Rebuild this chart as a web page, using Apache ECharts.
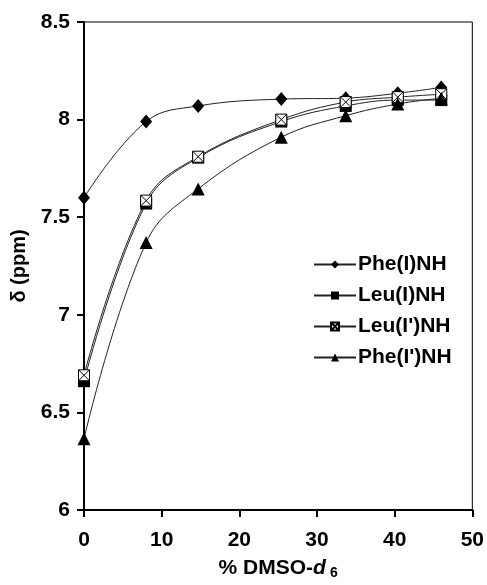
<!DOCTYPE html>
<html>
<head>
<meta charset="utf-8">
<script src="https://cdn.jsdelivr.net/npm/echarts@6/dist/echarts.min.js"></script>
<style>
    html, body { margin: 0; padding: 0; background: #fff; }
    #chart { width: 487px; height: 585px; }
</style>
</head>
<body>
<div id="chart"></div>
<script>
// % DMSO-d6 values along x
const dmso = [0, 8, 14.7, 25.4, 33.7, 40.4, 46];

const pheI = [7.60, 7.99, 8.07, 8.105, 8.11, 8.135, 8.165];
const leuI = [6.66, 7.57, 7.805, 7.99, 8.07, 8.10, 8.10];
const leuIp = [6.69, 7.585, 7.81, 8.00, 8.09, 8.115, 8.13];
const pheIp = [6.365, 7.37, 7.645, 7.91, 8.02, 8.08, 8.11];

const seriesNames = ['Phe(I)NH', 'Leu(I)NH', "Leu(I')NH", "Phe(I')NH"];
const xTicks = [0, 10, 20, 30, 40, 50];

const FONT = 'Liberation Sans, Arial, sans-serif';
const boxX = 'path://M0,0L10,0L10,10L0,10Z M0,0L10,10 M10,0L0,10';

function toPairs(vals) {
    return vals.map((v, i) => [dmso[i], v]);
}

function makeSeries(name, vals, symbol, size, fill) {
    return {
        name,
        type: 'line',
        data: toPairs(vals),
        smooth: 0.4,
        symbol,
        symbolSize: size,
        showAllSymbol: true,
        lineStyle: { color: '#222', width: 1 },
        itemStyle: {
            color: fill,
            borderColor: '#000',
            borderWidth: fill === '#000' ? 0 : 1,
        },
        emphasis: { disabled: true },
        z: 3,
    };
}

const chart = echarts.init(document.getElementById('chart'));
chart.setOption({
    animation: false,
    backgroundColor: '#fff',
    grid: { left: 84, right: 12, top: 22, bottom: 74, show: true, borderColor: '#000', borderWidth: 1 },
    legend: {
        orient: 'vertical',
        left: 308,
        top: 249,
        itemWidth: 42,
        itemHeight: 10,
        itemGap: 10,
        textStyle: { fontFamily: FONT, fontSize: 21, fontWeight: 'bold', color: '#000', padding: [0, 0, 0, -3] },
        data: seriesNames,
    },
    xAxis: {
        type: 'value',
        min: 0,
        max: 50,
        interval: 10,
        name: '% DMSO-{i|d}{s|6}',
        nameLocation: 'middle',
        nameGap: 46,
        nameTextStyle: {
            fontFamily: FONT, fontSize: 21, fontWeight: 'bold', color: '#000',
            rich: {
                i: { fontFamily: FONT, fontSize: 21, fontWeight: 'bold', fontStyle: 'italic', color: '#000' },
                s: { fontFamily: FONT, fontSize: 14, fontWeight: 'bold', color: '#000', verticalAlign: 'bottom', padding: [10, 0, 0, 4] },
            },
        },
        axisLine: { onZero: false, lineStyle: { color: '#000', width: 2 } },
        axisTick: { inside: false, length: 7, lineStyle: { color: '#000', width: 2 } },
        axisLabel: {
            margin: 20, fontFamily: FONT, fontSize: 21, fontWeight: 'bold', color: '#000',
            formatter: (v) => (xTicks.includes(v) ? String(v) : ''),
        },
        splitLine: { show: false },
    },
    yAxis: {
        type: 'value',
        min: 6,
        max: 8.5,
        interval: 0.5,
        name: 'δ (ppm)',
        nameLocation: 'middle',
        nameGap: 54,
        nameTextStyle: { fontFamily: FONT, fontSize: 20, fontWeight: 'bold', color: '#000' },
        axisLine: { onZero: false, lineStyle: { color: '#000', width: 2 } },
        axisTick: { inside: false, length: 7, lineStyle: { color: '#000', width: 2 } },
        axisLabel: { margin: 14, fontFamily: FONT, fontSize: 21, fontWeight: 'bold', color: '#000' },
        splitLine: { show: false },
    },
    series: [
        makeSeries(seriesNames[0], pheI, 'diamond', [12, 14], '#000'),
        makeSeries(seriesNames[1], leuI, 'rect', 12, '#000'),
        makeSeries(seriesNames[2], leuIp, boxX, 11, '#fff'),
        makeSeries(seriesNames[3], pheIp, 'triangle', 13, '#000'),
    ],
});
</script>
</body>
</html>
